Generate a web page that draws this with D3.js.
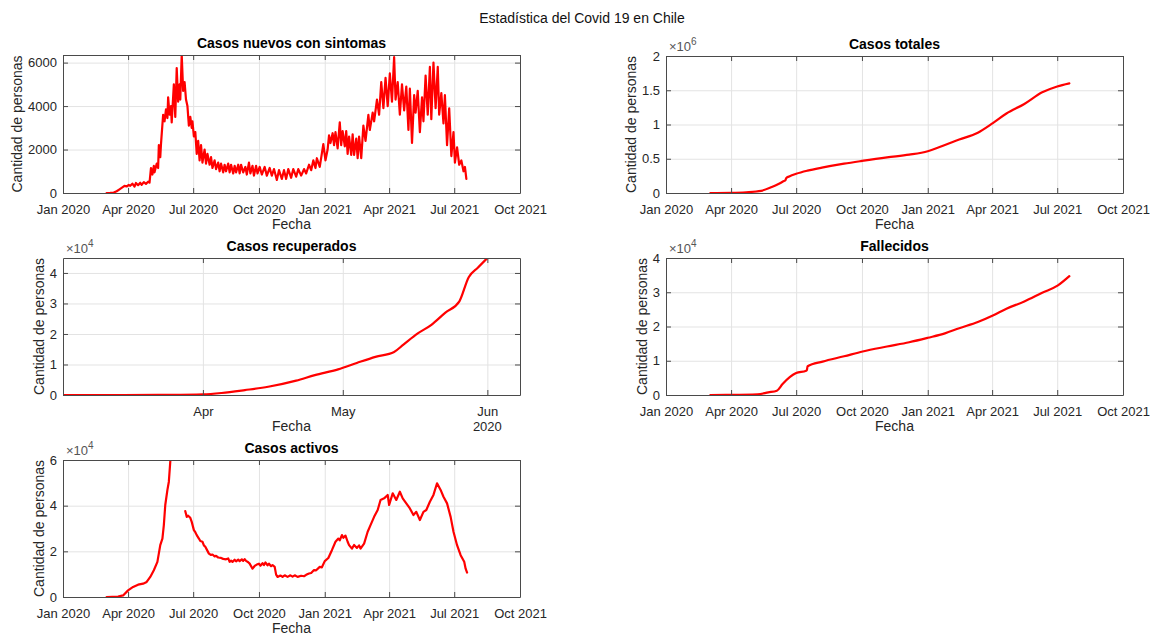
<!DOCTYPE html>
<html>
<head>
<meta charset="utf-8">
<script src="https://cdn.jsdelivr.net/npm/d3@7"></script>
<style>
  body { margin: 0; background: #fff; }
  svg { display: block; font-family: "Liberation Sans", Arial, Helvetica, sans-serif; }
</style>
</head>
<body>
<svg id="fig" width="1165" height="639"></svg>
<script>
// ---- Series (fecha, cantidad de personas) ----
const casosNuevos = [
  ["2020-03-02",0],["2020-03-07",5],["2020-03-12",20],["2020-03-16",80],["2020-03-20",170],["2020-03-24",260],
  ["2020-03-27",330],["2020-03-30",300],["2020-04-02",370],["2020-04-04",330],["2020-04-07",430],["2020-04-10",290],
  ["2020-04-12",460],["2020-04-15",360],["2020-04-18",470],["2020-04-20",380],["2020-04-23",500],["2020-04-26",420],
  ["2020-04-29",520],["2020-05-01",480],["2020-05-03",1150],["2020-05-05",850],["2020-05-07",1250],["2020-05-08",950],
  ["2020-05-11",1350],["2020-05-13",1150],["2020-05-14",2200],["2020-05-16",1650],["2020-05-17",2250],["2020-05-20",3600],
  ["2020-05-22",3300],["2020-05-24",3850],["2020-05-26",3450],["2020-05-27",4400],["2020-05-29",3600],["2020-05-31",4000],
  ["2020-06-01",3250],["2020-06-04",5000],["2020-06-06",3500],["2020-06-08",5750],["2020-06-10",4200],["2020-06-12",5000],
  ["2020-06-13",4300],["2020-06-15",6350],["2020-06-17",4700],["2020-06-19",5100],["2020-06-21",4300],["2020-06-23",4000],
  ["2020-06-25",3100],["2020-06-27",3500],["2020-06-29",3000],["2020-06-30",3300],["2020-07-02",2600],["2020-07-04",2800],
  ["2020-07-06",1800],["2020-07-08",2400],["2020-07-10",1500],["2020-07-12",2200],["2020-07-14",1400],["2020-07-17",2000],
  ["2020-07-19",1350],["2020-07-21",1800],["2020-07-24",1300],["2020-07-26",1650],["2020-07-28",1150],["2020-07-31",1500],
  ["2020-08-02",1100],["2020-08-05",1400],["2020-08-07",1000],["2020-08-09",1350],["2020-08-12",950],["2020-08-14",1300],
  ["2020-08-16",1000],["2020-08-19",1350],["2020-08-21",950],["2020-08-23",1300],["2020-08-26",900],["2020-08-28",1250],
  ["2020-08-30",950],["2020-09-02",1300],["2020-09-04",900],["2020-09-06",1300],["2020-09-09",950],["2020-09-12",1200],
  ["2020-09-14",850],["2020-09-17",1400],["2020-09-19",900],["2020-09-22",1250],["2020-09-24",800],["2020-09-27",1250],
  ["2020-09-29",900],["2020-10-02",1200],["2020-10-05",850],["2020-10-09",1200],["2020-10-12",800],["2020-10-16",1150],
  ["2020-10-19",800],["2020-10-22",1100],["2020-10-26",600],["2020-10-29",1050],["2020-11-02",650],["2020-11-05",1050],
  ["2020-11-08",650],["2020-11-11",1100],["2020-11-15",700],["2020-11-18",1100],["2020-11-22",750],["2020-11-25",1100],
  ["2020-11-29",800],["2020-12-03",1100],["2020-12-06",900],["2020-12-10",1300],["2020-12-13",1050],["2020-12-16",1500],
  ["2020-12-19",1150],["2020-12-21",1600],["2020-12-25",1200],["2020-12-30",2250],["2021-01-02",1500],["2021-01-05",2000],
  ["2021-01-07",2650],["2021-01-09",2300],["2021-01-12",2750],["2021-01-14",2200],["2021-01-16",2800],["2021-01-19",2050],
  ["2021-01-22",3250],["2021-01-24",2200],["2021-01-26",2850],["2021-01-29",2150],["2021-01-31",2850],["2021-02-02",1800],
  ["2021-02-04",2600],["2021-02-07",1750],["2021-02-09",2700],["2021-02-11",1750],["2021-02-14",2500],["2021-02-16",1600],
  ["2021-02-18",2600],["2021-02-21",1600],["2021-02-24",3100],["2021-02-27",2400],["2021-03-03",3600],["2021-03-05",2900],
  ["2021-03-09",3700],["2021-03-11",3300],["2021-03-15",4300],["2021-03-18",3600],["2021-03-21",5100],["2021-03-24",3900],
  ["2021-03-27",5300],["2021-03-30",4000],["2021-04-02",5500],["2021-04-05",4200],["2021-04-08",6250],["2021-04-10",4300],
  ["2021-04-13",5100],["2021-04-16",3600],["2021-04-19",5000],["2021-04-22",3800],["2021-04-25",4900],["2021-04-28",2900],
  ["2021-04-30",4800],["2021-05-03",2300],["2021-05-06",4500],["2021-05-08",3700],["2021-05-11",4700],["2021-05-14",2800],
  ["2021-05-17",4400],["2021-05-19",3300],["2021-05-22",5400],["2021-05-25",3600],["2021-05-28",5800],["2021-05-30",3400],
  ["2021-06-02",6000],["2021-06-05",3900],["2021-06-08",5800],["2021-06-10",3600],["2021-06-13",4600],["2021-06-16",3200],
  ["2021-06-18",4500],["2021-06-21",2200],["2021-06-24",3900],["2021-06-27",1700],["2021-06-30",2800],["2021-07-02",1400],
  ["2021-07-05",2100],["2021-07-08",1300],["2021-07-11",1500],["2021-07-14",1000],["2021-07-16",1200],["2021-07-18",650]
];

const casosTotales = [
  ["2020-03-03",0],["2020-04-01",3000],["2020-04-22",11000],["2020-05-13",31000],["2020-05-28",87000],
  ["2020-06-07",134000],["2020-06-14",175000],["2020-06-16",185000],["2020-06-17",215000],["2020-06-22",245000],
  ["2020-07-01",280000],["2020-07-17",326000],["2020-08-06",370000],["2020-09-06",428000],["2020-10-01",468000],
  ["2020-11-05",520000],["2020-12-06",560000],["2021-01-01",610000],["2021-01-25",700000],["2021-02-14",780000],
  ["2021-03-12",880000],["2021-04-02",1020000],["2021-04-21",1160000],["2021-05-16",1300000],["2021-06-10",1470000],
  ["2021-07-01",1555000],["2021-07-18",1600000]
];

const casosRecuperados = [
  ["2020-03-02",0],["2020-03-15",0],["2020-03-25",50],["2020-04-01",200],["2020-04-05",650],["2020-04-10",1600],
  ["2020-04-15",2700],["2020-04-21",4700],["2020-04-25",6500],["2020-04-30",8400],["2020-05-04",10500],
  ["2020-05-08",12500],["2020-05-12",14100],["2020-05-14",16500],["2020-05-17",20100],["2020-05-20",23000],
  ["2020-05-23",27000],["2020-05-26",30700],["2020-05-28",38600],["2020-05-30",41800],["2020-06-01",44900]
];

const fallecidos = [
  ["2020-03-03",0],["2020-04-01",30],["2020-05-08",200],["2020-05-23",780],["2020-06-04",1270],["2020-06-12",3200],
  ["2020-06-22",5200],["2020-07-01",6400],["2020-07-15",7100],["2020-07-16",7300],["2020-07-17",8400],
  ["2020-08-07",9760],["2020-09-06",11300],["2020-10-02",12700],["2020-11-05",14150],["2020-12-06",15400],
  ["2021-01-01",16700],["2021-01-25",18000],["2021-02-14",19500],["2021-03-12",21300],["2021-04-02",23200],
  ["2021-04-21",25200],["2021-05-16",27300],["2021-06-10",29850],["2021-07-02",32000],["2021-07-18",34700]
];

const casosActivos = [
  ["2020-03-02",0],["2020-03-18",200],["2020-03-25",700],["2020-04-01",2900],["2020-04-08",4400],["2020-04-15",5400],
  ["2020-04-22",5850],["2020-04-27",6600],["2020-05-02",8800],["2020-05-07",11700],["2020-05-12",15400],
  ["2020-05-16",22700],["2020-05-19",25600],["2020-05-21",31500],["2020-05-23",40300],["2020-05-26",46900],
  ["2020-05-28",50500],["2020-05-30",59300],["2020-05-31",63000],["2020-06-10",null],
  ["2020-06-20",37600],["2020-06-22",35100],["2020-06-24",35600],["2020-06-27",34700],["2020-06-29",32900],["2020-07-02",29300],
  ["2020-07-04",28400],["2020-07-06",27100],["2020-07-09",25600],["2020-07-11",24500],["2020-07-14",24200],["2020-07-16",22600],["2020-07-18",22000],
  ["2020-07-21",20200],["2020-07-23",19000],["2020-07-26",18400],["2020-07-28",18600],["2020-07-31",17800],["2020-08-02",18000],
  ["2020-08-05",17300],["2020-08-09",17100],["2020-08-12",16700],["2020-08-16",16500],["2020-08-19",16900],["2020-08-21",15400],
  ["2020-08-23",15900],["2020-08-25",15400],["2020-08-28",16300],["2020-08-30",15600],["2020-09-02",16400],["2020-09-04",15700],
  ["2020-09-07",16500],["2020-09-09",15800],["2020-09-11",16600],["2020-09-13",15800],["2020-09-16",15200],
  ["2020-09-18",14600],["2020-09-22",12400],["2020-09-25",13600],["2020-09-28",14200],["2020-10-01",14600],["2020-10-03",13700],["2020-10-06",14800],
  ["2020-10-08",14000],["2020-10-10",15100],["2020-10-13",13900],["2020-10-15",14600],["2020-10-18",13500],["2020-10-20",14000],["2020-10-23",13200],["2020-10-25",9800],
  ["2020-10-27",8800],["2020-10-31",9400],["2020-11-03",8800],["2020-11-06",9500],["2020-11-10",8800],["2020-11-14",9500],["2020-11-17",8900],["2020-11-20",9500],
  ["2020-11-24",8800],["2020-11-29",9300],["2020-12-03",9100],
  ["2020-12-06",9700],["2020-12-10",10300],["2020-12-13",10500],["2020-12-17",11800],["2020-12-20",11700],["2020-12-25",13200],["2020-12-28",13000],["2021-01-01",15700],
  ["2021-01-06",17100],["2021-01-11",20500],["2021-01-16",24200],["2021-01-20",25600],["2021-01-22",24800],["2021-01-25",27100],
  ["2021-01-27",25900],["2021-01-30",26900],["2021-02-02",24200],["2021-02-04",22700],["2021-02-08",21200],["2021-02-11",22800],["2021-02-15",21500],["2021-02-18",22600],["2021-02-20",21200],
  ["2021-02-25",23400],["2021-03-02",28600],["2021-03-06",31500],["2021-03-11",35100],["2021-03-16",38100],
  ["2021-03-20",42500],["2021-03-25",43200],["2021-03-30",44700],["2021-04-01",40300],["2021-04-06",45400],
  ["2021-04-11",42500],["2021-04-16",46100],["2021-04-20",43200],["2021-04-25",41000],["2021-04-30",38800],
  ["2021-05-05",35900],["2021-05-09",37300],["2021-05-14",33700],["2021-05-19",37300],["2021-05-23",38100],
  ["2021-05-28",41700],["2021-06-02",44700],["2021-06-07",49800],["2021-06-12",46900],["2021-06-16",43900],
  ["2021-06-21",41000],["2021-06-26",35100],["2021-06-30",28600],["2021-07-05",22700],["2021-07-10",18300],
  ["2021-07-15",15400],["2021-07-17",12400],["2021-07-19",10700]
];

// ---- Ticks ----
const fechasTicks = ["2020-01-01","2020-04-01","2020-07-01","2020-10-01","2021-01-01","2021-04-01","2021-07-01","2021-10-01"];
const fechasRecupTicks = ["2020-04-01","2020-05-01","2020-06-01"];
const ticksNuevos = [0, 2000, 4000, 6000];
const ticksTotales = [0, 0.5e6, 1e6, 1.5e6, 2e6];
const ticksRecuperados = [0, 1e4, 2e4, 3e4, 4e4];
const ticksFallecidos = [0, 1e4, 2e4, 3e4, 4e4];
const ticksActivos = [0, 2e4, 4e4, 6e4];

const parse = d3.utcParse("%Y-%m-%d");
const svg = d3.select("#fig");
const AXIS = "#4a4a4a", TEXT = "#262626", GRID = "#e3e3e3", RED = "#ff0000";
const TICK = 5;

svg.append("text")
  .attr("x", 582).attr("y", 23).attr("text-anchor", "middle")
  .attr("font-size", 14).attr("fill", "#111")
  .text("Estadística del Covid 19 en Chile");

let clipId = 0;
function panel(cfg) {
  const { left, right, top, bottom } = cfg;
  const g = svg.append("g");
  const x = d3.scaleUtc().domain(cfg.xDomain.map(parse)).range([left, right]);
  const y = d3.scaleLinear().domain(cfg.yDomain).range([bottom, top]);
  const xt = cfg.xTicks.map(parse);

  // grid
  g.append("g").attr("transform", `translate(0,${bottom})`)
    .call(d3.axisBottom(x).tickValues(xt).tickSize(-(bottom - top)).tickFormat(""))
    .call(s => { s.select(".domain").remove(); s.selectAll("line").attr("stroke", GRID).attr("stroke-width", 1); });
  g.append("g").attr("transform", `translate(${left},0)`)
    .call(d3.axisLeft(y).tickValues(cfg.yTicks).tickSize(-(right - left)).tickFormat(""))
    .call(s => { s.select(".domain").remove(); s.selectAll("line").attr("stroke", GRID).attr("stroke-width", 1); });

  // series
  const id = "clip" + (clipId++);
  g.append("clipPath").attr("id", id).append("rect")
    .attr("x", left).attr("y", top).attr("width", right - left).attr("height", bottom - top);
  const line = d3.line()
    .defined(d => d[1] !== null)
    .curve(cfg.smooth ? d3.curveMonotoneX : d3.curveLinear)
    .x(d => x(parse(d[0])))
    .y(d => y(d[1]));
  g.append("path").datum(cfg.data)
    .attr("clip-path", `url(#${id})`)
    .attr("fill", "none").attr("stroke", RED).attr("stroke-width", 2.2)
    .attr("stroke-linejoin", "round").attr("stroke-linecap", "round")
    .attr("d", line);

  // axes (ticks point inward, mirrored on top and right)
  const style = s => {
    s.select(".domain").attr("stroke", AXIS).attr("stroke-width", 1);
    s.selectAll(".tick line").attr("stroke", AXIS).attr("stroke-width", 1);
    s.selectAll("text").attr("fill", TEXT).attr("font-size", 13)
      .attr("font-family", '"Liberation Sans", Arial, Helvetica, sans-serif');
  };
  g.append("g").attr("transform", `translate(0,${bottom})`)
    .call(d3.axisBottom(x).tickValues(xt).tickFormat(cfg.xFormat).tickSizeInner(-TICK).tickSizeOuter(0).tickPadding(12))
    .call(style);
  g.append("g").attr("transform", `translate(0,${top})`)
    .call(d3.axisTop(x).tickValues(xt).tickFormat("").tickSizeInner(-TICK).tickSizeOuter(0))
    .call(style);
  const yAxisG = g.append("g").attr("transform", `translate(${left},0)`)
    .call(d3.axisLeft(y).tickValues(cfg.yTicks).tickFormat(cfg.yFormat).tickSizeInner(-TICK).tickSizeOuter(0).tickPadding(6))
    .call(style);
  g.append("g").attr("transform", `translate(${right},0)`)
    .call(d3.axisRight(y).tickValues(cfg.yTicks).tickFormat("").tickSizeInner(-TICK).tickSizeOuter(0))
    .call(style);

  // title
  g.append("text").attr("x", (left + right) / 2).attr("y", top - 7)
    .attr("text-anchor", "middle").attr("font-size", 14).attr("font-weight", "bold").attr("fill", "#000")
    .text(cfg.title);

  // exponent
  if (cfg.exponent) {
    const t = g.append("text").attr("x", left + 3).attr("y", top - 5)
      .attr("font-size", 13).attr("fill", "#555");
    t.append("tspan").text("×10");
    t.append("tspan").attr("font-size", 10).attr("dy", -6).text(cfg.exponent);
  }

  // axis labels
  g.append("text").attr("x", (left + right) / 2).attr("y", bottom + 36)
    .attr("text-anchor", "middle").attr("font-size", 14).attr("fill", TEXT).text("Fecha");
  let minX = left;
  yAxisG.selectAll("text").each(function () {
    const b = this.getBBox();
    minX = Math.min(minX, left + b.x);
  });
  g.append("text")
    .attr("transform", `translate(${minX - 6},${(top + bottom) / 2}) rotate(-90)`)
    .attr("text-anchor", "middle").attr("font-size", 14).attr("fill", TEXT)
    .text("Cantidad de personas");

  if (cfg.yearLabel) {
    g.append("text").attr("x", x(parse(cfg.yearLabel[0]))).attr("y", bottom + 36)
      .attr("text-anchor", "middle").attr("font-size", 13).attr("fill", TEXT).text(cfg.yearLabel[1]);
  }
}

const fmtFecha = d3.utcFormat("%b %Y");
const fmtMes = d3.utcFormat("%b");

panel({
  left: 63, right: 520, top: 55, bottom: 193,
  title: "Casos nuevos con sintomas",
  data: casosNuevos,
  xDomain: ["2020-01-01", "2021-10-01"], xTicks: fechasTicks, xFormat: fmtFecha,
  yDomain: [0, d3.max(casosNuevos, d => d[1])], yTicks: ticksNuevos, yFormat: d => String(d)
});
panel({
  left: 666, right: 1123, top: 56, bottom: 193,
  title: "Casos totales",
  data: casosTotales, smooth: true,
  xDomain: ["2020-01-01", "2021-10-01"], xTicks: fechasTicks, xFormat: fmtFecha,
  yDomain: [0, 2e6], yTicks: ticksTotales, yFormat: d => String(d / 1e6), exponent: "6"
});
panel({
  left: 63, right: 520, top: 258, bottom: 395,
  title: "Casos recuperados",
  data: casosRecuperados, smooth: true,
  xDomain: ["2020-03-02", "2020-06-08"], xTicks: fechasRecupTicks, xFormat: fmtMes,
  yDomain: [0, d3.max(casosRecuperados, d => d[1])], yTicks: ticksRecuperados, yFormat: d => String(d / 1e4), exponent: "4",
  yearLabel: ["2020-06-01", "2020"]
});
panel({
  left: 666, right: 1123, top: 258, bottom: 395,
  title: "Fallecidos",
  data: fallecidos, smooth: true,
  xDomain: ["2020-01-01", "2021-10-01"], xTicks: fechasTicks, xFormat: fmtFecha,
  yDomain: [0, 4e4], yTicks: ticksFallecidos, yFormat: d => String(d / 1e4), exponent: "4"
});
panel({
  left: 63, right: 520, top: 460, bottom: 597,
  title: "Casos activos",
  data: casosActivos,
  xDomain: ["2020-01-01", "2021-10-01"], xTicks: fechasTicks, xFormat: fmtFecha,
  yDomain: [0, 6e4], yTicks: ticksActivos, yFormat: d => String(d / 1e4), exponent: "4"
});
</script>
</body>
</html>
